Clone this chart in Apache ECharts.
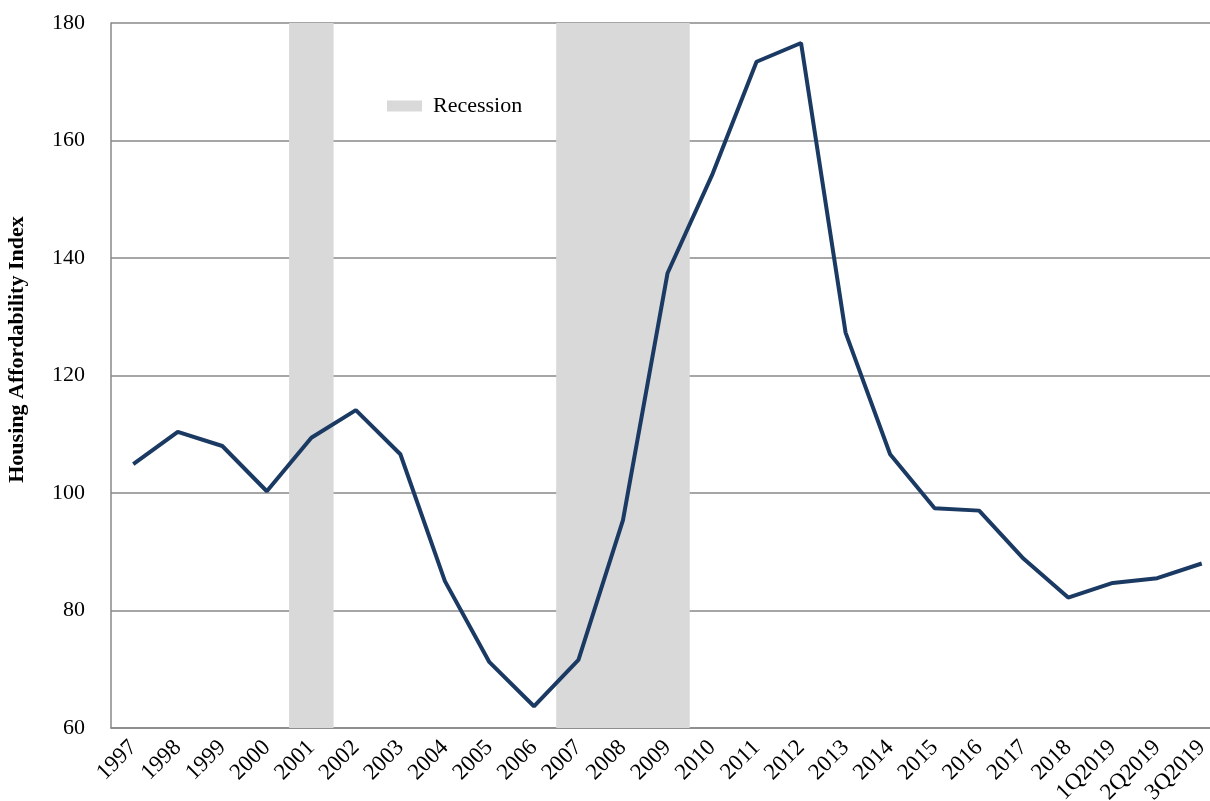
<!DOCTYPE html>
<html>
<head>
<meta charset="utf-8">
<script src="https://cdn.jsdelivr.net/npm/echarts@6/dist/echarts.min.js"></script>
<style>
  html, body { margin: 0; padding: 0; background: #fff; }
  #chart { width: 1210px; height: 801px; }
</style>
</head>
<body>
<div id="chart"></div>
<script>
  const categories = ['1997', '1998', '1999', '2000', '2001', '2002', '2003', '2004', '2005', '2006',
    '2007', '2008', '2009', '2010', '2011', '2012', '2013', '2014', '2015', '2016', '2017', '2018',
    '1Q2019', '2Q2019', '3Q2019'];
  const indexValues = [104.9, 110.4, 108.0, 100.3, 109.4, 114.1, 106.6, 85.0, 71.2, 63.7,
    71.6, 95.4, 137.4, 154.1, 173.4, 176.6, 127.3, 106.6, 97.4, 97.0, 88.8, 82.2,
    84.7, 85.5, 88.0];
  const recessions = [['2001', '2001'], ['2007', '2009']];

  const font = 'Liberation Serif';
  const chart = echarts.init(document.getElementById('chart'));

  const option = {
    backgroundColor: '#fff',
    animation: false,
    grid: {
      left: 111,
      top: 23,
      width: 1113,
      bottom: 73,
      containLabel: false,
      outerBoundsMode: 'none',
    },
    legend: {
      data: [{ name: 'Recession', icon: 'rect' }],
      left: 382,
      top: 90,
      itemWidth: 35,
      itemHeight: 11,
      textStyle: { fontFamily: font, fontSize: 22, color: '#000', padding: [0, 0, 0, 6] },
    },
    xAxis: {
      type: 'category',
      data: categories,
      boundaryGap: true,
      axisLine: { lineStyle: { color: '#888', width: 1.5 } },
      axisTick: { show: false },
      axisLabel: {
        interval: 0,
        rotate: 45,
        margin: 16,
        fontFamily: font,
        fontSize: 23,
        color: '#000',
      },
    },
    yAxis: {
      type: 'value',
      min: 60,
      max: 180,
      interval: 20,
      name: 'Housing Affordability Index',
      nameLocation: 'middle',
      nameRotate: 90,
      nameGap: 83,
      nameTextStyle: {
        fontFamily: font,
        fontSize: 22,
        fontWeight: 'bold',
        color: '#000',
        padding: [0, 0, 0, 52],
      },
      axisLine: { show: true, lineStyle: { color: '#888', width: 1.5 } },
      axisTick: { show: false },
      axisLabel: { margin: 26, fontFamily: font, fontSize: 22, color: '#000' },
      splitLine: { lineStyle: { color: '#888', width: 1.5 } },
    },
    series: [
      {
        name: 'Recession',
        type: 'bar',
        data: [],
        z: 1,
        itemStyle: { color: '#d9d9d9' },
        markArea: {
          silent: true,
          itemStyle: { color: '#d9d9d9' },
          data: recessions.map(r => [{ xAxis: r[0] }, { xAxis: r[1] }]),
        },
      },
      {
        name: 'Index',
        type: 'line',
        data: indexValues,
        z: 3,
        symbol: 'none',
        lineStyle: { color: '#1b3a63', width: 4 },
      },
    ],
  };

  chart.setOption(option);
</script>
</body>
</html>
